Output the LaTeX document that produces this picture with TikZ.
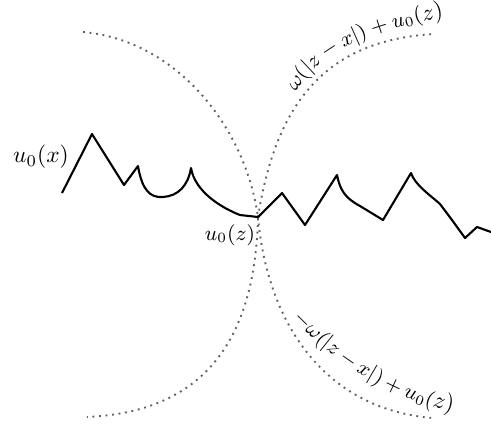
\documentclass[tikz,border=0pt]{standalone}
\usepackage{amsmath,amssymb}
\usetikzlibrary{calc,decorations.text}
\begin{document}
\begin{tikzpicture}[x=0.015cm,y=-0.015cm]
        % рамка рисунка (піксельні координати, вісь y вниз)
        \useasboundingbox (0,0) rectangle (491,428);
        \tikzset{bound/.style={dotted, line width=0.8pt, gray!75!black}}

        \coordinate (Z) at (258,217);

        % ліва дуга
        \draw[bound] (83,32) .. controls (175,40) and (245,125) .. (Z)
                     .. controls (255,345) and (200,412) .. (87,417);
        % праві гілки
        \draw[bound] (Z) .. controls (275,110) and (320,40) .. (435,34);
        \draw[bound] (Z) .. controls (268,330) and (330,410) .. (433,418);

        % ламана u_0
        \draw[line width=0.9pt, line join=round]
            (62,193) -- (92,134) -- (124,185) -- (138,166)
            .. controls (142,190) and (150,198) .. (163,197)
            .. controls (178,196) and (188,186) .. (191,168)
            .. controls (195,192) and (222,208) .. (240,215) -- (Z)
            -- (282,193) -- (305,225) -- (337,175)
            .. controls (340,190) and (345,198) .. (360,206)
            -- (383,220) -- (411,173)
            .. controls (415,185) and (430,195) .. (440,204)
            -- (452,220) -- (465,238) -- (477,227) -- (491,232);

        \node (ux) at (41,157) {$u_0(x)$};
        \node[font=\small] (uz) at (230,235) {$u_0(z)$};

        % підписи вздовж кривих
        \path[decorate, decoration={text along path,
              text={|\small|{$\omega($}{$\vert z$}{${}-{}$}{$x\vert)$}{${}+{}$}{$u_0($}{$z)$}}}]
            (296,92) .. controls (318,56) and (355,33) .. (445,17);
        \path[decorate, decoration={text along path,
              text={|\small|{$-\omega($}{$\vert z$}{${}-{}$}{$x\vert)$}{${}+{}$}{$u_0($}{$z)$}}}]
            (293,318) .. controls (324,353) and (380,396) .. (450,411);
    \end{tikzpicture}
\end{document}
